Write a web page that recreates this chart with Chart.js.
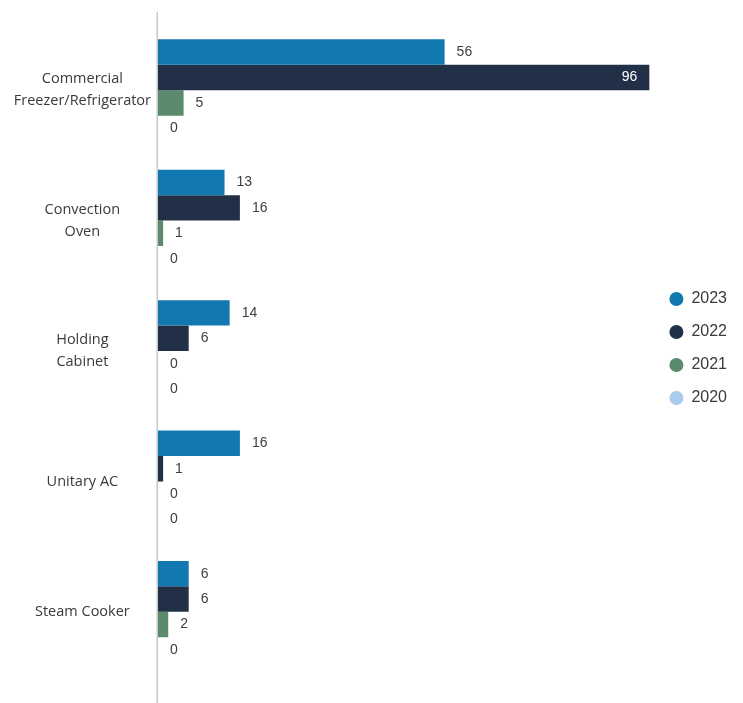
<!DOCTYPE html>
<html>
<head>
<meta charset="utf-8">
<script src="https://cdn.jsdelivr.net/npm/chart.js@4"></script>
<style>
  html, body { margin: 0; padding: 0; background: #fff; }
  #wrap { width: 743px; height: 703px; }
</style>
</head>
<body>
<div id="wrap"><canvas id="myChart" width="743" height="703"></canvas></div>
<script>
const categories = [
  ["Commercial", "Freezer/Refrigerator"],
  ["Convection", "Oven"],
  ["Holding", "Cabinet"],
  "Unitary AC",
  "Steam Cooker"
];
const years = ["2023", "2022", "2021", "2020"];
const values2023 = [56, 13, 14, 16, 6];
const values2022 = [96, 16, 6, 1, 6];
const values2021 = [5, 1, 0, 0, 2];
const values2020 = [0, 0, 0, 0, 0];
const colors = ["#1279b0", "#223047", "#5b8a6c", "#a8cdec"];

// value labels next to bar ends
const valueLabels = {
  id: "valueLabels",
  afterDatasetsDraw(chart) {
    const ctx = chart.ctx;
    const area = chart.chartArea;
    ctx.save();
    ctx.font = "14px 'Liberation Sans', Arial, sans-serif";
    ctx.textBaseline = "middle";
    chart.data.datasets.forEach((ds, i) => {
      const meta = chart.getDatasetMeta(i);
      meta.data.forEach((bar, j) => {
        const text = String(ds.data[j]);
        const w = ctx.measureText(text).width;
        if (bar.x + 12 + w > area.right) {
          ctx.fillStyle = "#ffffff";
          ctx.textAlign = "right";
          ctx.fillText(text, bar.x - 12, bar.y);
        } else {
          ctx.fillStyle = "#404040";
          ctx.textAlign = "left";
          ctx.fillText(text, bar.x + 12, bar.y);
        }
      });
    });
    ctx.restore();
  }
};

// the vertical axis line runs past the category area
const axisLine = {
  id: "axisLine",
  afterDraw(chart) {
    const ctx = chart.ctx;
    const x = chart.scales.x.getPixelForValue(0);
    ctx.save();
    ctx.strokeStyle = "#c8c8c8";
    ctx.lineWidth = 1.5;
    ctx.beginPath();
    ctx.moveTo(x - 0.75, 12);
    ctx.lineTo(x - 0.75, chart.height);
    ctx.stroke();
    ctx.restore();
  }
};

const ctx = document.getElementById("myChart").getContext("2d");
const myChart = new Chart(ctx, {
  type: "bar",
  data: {
    labels: categories,
    datasets: [
      { label: years[0], data: values2023, backgroundColor: colors[0] },
      { label: years[1], data: values2022, backgroundColor: colors[1] },
      { label: years[2], data: values2021, backgroundColor: colors[2] },
      { label: years[3], data: values2020, backgroundColor: colors[3] }
    ]
  },
  options: {
    indexAxis: "y",
    responsive: false,
    animation: false,
    devicePixelRatio: 1,
    categoryPercentage: 0.78,
    barPercentage: 1,
    layout: { padding: { top: 25, bottom: 26, left: 0, right: 6 } },
    scales: {
      x: {
        min: 0,
        max: 96.6,
        display: false
      },
      y: {
        grid: { display: false, drawTicks: false },
        border: { display: false },
        afterFit(scale) {
          scale.width = 158;
          scale.paddingTop = 0;
          scale.paddingBottom = 0;
        },
        ticks: {
          crossAlign: "center",
          padding: 7,
          color: "#3a3a3a",
          font: { family: "'Open Sans', 'Noto Sans', sans-serif", size: 14.5, lineHeight: 1.5 }
        }
      }
    },
    plugins: {
      legend: {
        position: "right",
        align: "start",
        title: {
          display: true,
          text: " ",
          font: { size: 10 },
          padding: { top: 237, bottom: 0 }
        },
        labels: {
          usePointStyle: true,
          pointStyle: "circle",
          boxWidth: 10,
          boxHeight: 10,
          pointStyleWidth: 14,
          padding: 17,
          color: "#3a3a3a",
          font: { family: "'Liberation Sans', Arial, sans-serif", size: 16 }
        }
      },
      tooltip: { enabled: false }
    }
  },
  plugins: [valueLabels, axisLine]
});
</script>
</body>
</html>
